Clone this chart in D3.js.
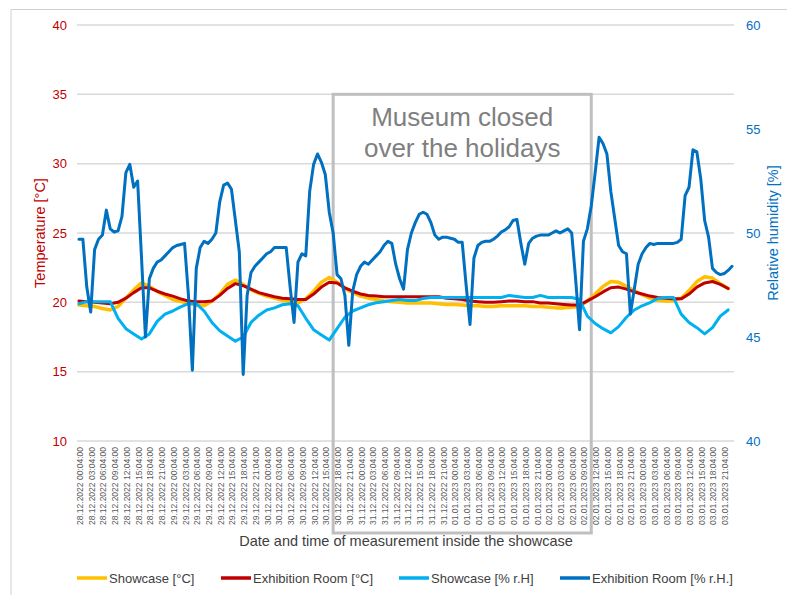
<!DOCTYPE html>
<html>
<head>
<meta charset="utf-8">
<script src="https://cdn.jsdelivr.net/npm/d3@7"></script>
<style>
  body { margin: 0; background: #fff; }
  text { font-family: "Liberation Sans", Arial, sans-serif; }
</style>
</head>
<body>
<div id="chart"></div>
<script>
// category labels (one every 3 hours)
var days = ["28.12.2022", "29.12.2022", "30.12.2022", "31.12.2022", "01.01.2023", "02.01.2023", "03.01.2023"];
var times = ["00:04:00", "03:04:00", "06:04:00", "09:04:00", "12:04:00", "15:04:00", "18:04:00", "21:04:00"];

// showcase temperature [°C], every 2 h
var tempShowcase = [19.8, 19.75, 19.7, 19.55, 19.45, 19.7, 20.3, 20.9, 21.4, 21.15,
  20.8, 20.5, 20.2, 20.05, 19.95, 19.8, 19.75, 20.1, 20.6, 21.3,
  21.6, 21.3, 20.9, 20.65, 20.45, 20.3, 20.15, 20.05, 19.95, 20.25,
  20.8, 21.45, 21.8, 21.45, 21.0, 20.7, 20.45, 20.3, 20.2, 20.1,
  20.05, 20.0, 19.95, 19.95, 19.95, 19.95, 19.9, 19.85, 19.85, 19.8,
  19.75, 19.75, 19.7, 19.7, 19.75, 19.75, 19.75, 19.75, 19.7, 19.7,
  19.65, 19.6, 19.6, 19.65, 19.7, 20.1, 20.6, 21.15, 21.5, 21.45,
  21.15, 20.85, 20.55, 20.3, 20.15, 20.1, 20.1, 20.3, 20.85, 21.5,
  21.85, 21.75, 21.35, 21.0];

// exhibition room temperature [°C], every 2 h
var tempRoom = [20.1, 20.05, 20.0, 19.95, 19.9, 20.0, 20.3, 20.7, 21.05, 21.05,
  20.8, 20.6, 20.45, 20.25, 20.1, 20.05, 20.05, 20.1, 20.5, 21.0,
  21.35, 21.2, 20.95, 20.7, 20.55, 20.4, 20.3, 20.25, 20.2, 20.2,
  20.6, 21.1, 21.45, 21.4, 21.05, 20.8, 20.6, 20.5, 20.45, 20.4,
  20.4, 20.4, 20.4, 20.4, 20.4, 20.4, 20.4, 20.3, 20.25, 20.2,
  20.1, 20.05, 20.0, 20.0, 20.05, 20.1, 20.1, 20.05, 20.05, 19.95,
  19.95, 19.9, 19.85, 19.8, 19.8, 20.1, 20.4, 20.75, 21.05, 21.1,
  20.95, 20.75, 20.6, 20.45, 20.35, 20.3, 20.25, 20.25, 20.6, 21.1,
  21.4, 21.5, 21.3, 21.0];

// showcase relative humidity [%], every 2 h
var rhShowcase = [46.6, 46.7, 46.7, 46.7, 46.7, 45.9, 45.4, 45.15, 44.9, 45.15,
  45.75, 46.1, 46.25, 46.45, 46.6, 46.6, 46.25, 45.7, 45.3, 45.05,
  44.8, 45.0, 45.7, 46.05, 46.3, 46.4, 46.55, 46.6, 46.5, 45.9,
  45.35, 45.1, 44.85, 45.4, 45.95, 46.25, 46.4, 46.55, 46.65, 46.7,
  46.75, 46.8, 46.75, 46.75, 46.85, 46.9, 46.9, 46.9, 46.9, 46.9,
  46.9, 46.9, 46.9, 46.9, 46.9, 47.0, 46.95, 46.9, 46.9, 47.0,
  46.9, 46.9, 46.9, 46.9, 46.8, 46.0, 45.65, 45.4, 45.2, 45.5,
  45.95, 46.3, 46.5, 46.65, 46.85, 46.9, 46.9, 46.1, 45.7, 45.45,
  45.15, 45.45, 46.0, 46.3];

// exhibition room relative humidity [%], hourly
var rhRoom = [49.7, 49.7, 47.4, 46.2, 49.2, 49.7, 49.9, 51.1, 50.2, 50.05,
  50.1, 50.8, 52.9, 53.3, 52.2, 52.5, 48.8, 45.0, 47.8, 48.3,
  48.6, 48.7, 48.9, 49.1, 49.3, 49.4, 49.45, 49.5, 47.0, 43.4,
  48.3, 49.3, 49.6, 49.5, 49.7, 50.0, 51.5, 52.3, 52.4, 52.1,
  50.6, 49.1, 43.2, 47.0, 48.1, 48.4, 48.6, 48.8, 49.0, 49.1,
  49.3, 49.3, 49.3, 49.3, 47.4, 45.7, 48.6, 49.0, 48.9, 52.0,
  53.3, 53.8, 53.4, 52.8, 51.0, 50.0, 48.0, 47.8, 47.0, 44.6,
  47.2, 48.0, 48.4, 48.6, 48.5, 48.7, 48.9, 49.1, 49.4, 49.6,
  49.5, 48.5, 47.8, 47.3, 49.2, 50.0, 50.5, 50.9, 51.0, 50.9,
  50.5, 49.9, 49.7, 49.8, 49.8, 49.75, 49.7, 49.55, 49.55, 47.5,
  45.6, 48.8, 49.4, 49.55, 49.6, 49.6, 49.7, 49.85, 50.05, 50.15,
  50.3, 50.6, 50.65, 49.5, 48.5, 49.5, 49.75, 49.85, 49.9, 49.9,
  49.9, 50.0, 50.1, 50.0, 50.1, 50.2, 50.0, 47.8, 45.35, 49.6,
  50.2, 51.3, 52.9, 54.6, 54.3, 53.8, 52.0, 50.7, 49.4, 49.1,
  49.0, 46.1, 47.3, 48.5, 49.0, 49.3, 49.5, 49.45, 49.5, 49.5,
  49.5, 49.5, 49.5, 49.55, 49.7, 51.8, 52.2, 54.0, 53.9, 52.6,
  50.6, 49.8, 48.3, 48.1, 48.0, 48.05, 48.2, 48.4];

var tempTicks = [10, 15, 20, 25, 30, 35, 40];
var rhTicks = [40, 45, 50, 55, 60];
var closedHours = [65, 131];   // museum closed, in hours from the first reading

(function () {
  var W = 787, H = 595;
  var plotL = 77, plotR = 734, plotT = 25, plotB = 441;

  var svg = d3.select("#chart").append("svg")
      .attr("width", W)
      .attr("height", H);

  // outer frame
  svg.append("path")
      .attr("d", "M11,595V9.5H787")
      .attr("fill", "none")
      .attr("stroke", "#d0d0d0")
      .attr("stroke-width", 1);

  var labels = [];
  days.forEach(function(d) { times.forEach(function(t) { labels.push(d + " " + t); }); });

  var x = d3.scaleLinear().domain([-0.5, labels.length * 3 - 0.5]).range([plotL, plotR]);
  var yT = d3.scaleLinear().domain([10, 40]).range([plotB, plotT]);
  var yH = d3.scaleLinear().domain([40, 60]).range([plotB, plotT]);

  ///////// grid and axes

  svg.append("g")
    .selectAll("line")
    .data(tempTicks)
    .enter().append("line")
      .attr("x1", plotL)
      .attr("x2", plotR)
      .attr("y1", function(d) { return yT(d); })
      .attr("y2", function(d) { return yT(d); })
      .attr("stroke", "#d9d9d9")
      .attr("stroke-width", 1.5);

  var gL = svg.append("g")
      .attr("transform", "translate(" + (plotL - 10) + ",0)")
      .call(d3.axisLeft(yT).tickValues(tempTicks).tickSize(0).tickPadding(0));
  gL.select(".domain").remove();
  gL.selectAll("text")
      .attr("fill", "#c00000")
      .style("font-size", "13px")
      .style("font-family", "'Liberation Sans', Arial, sans-serif");

  var gR = svg.append("g")
      .attr("transform", "translate(" + (plotR + 12) + ",0)")
      .call(d3.axisRight(yH).tickValues(rhTicks).tickSize(0).tickPadding(0));
  gR.select(".domain").remove();
  gR.selectAll("text")
      .attr("fill", "#0070c0")
      .style("font-size", "13px")
      .style("font-family", "'Liberation Sans', Arial, sans-serif");

  svg.append("g")
    .selectAll("text")
    .data(labels)
    .enter().append("text")
      .attr("transform", function(d, i) { return "translate(" + (x(i * 3) + 4) + ",447) rotate(-90)"; })
      .attr("text-anchor", "end")
      .attr("fill", "#595959")
      .style("font-size", "8.5px")
      .text(function(d) { return d; });

  ///////// closed box

  svg.append("rect")
      .attr("x", x(closedHours[0]))
      .attr("y", yT(35))
      .attr("width", x(closedHours[1]) - x(closedHours[0]))
      .attr("height", 533 - yT(35))
      .attr("fill", "none")
      .attr("stroke", "#bfbfbf")
      .attr("stroke-width", 3);

  var boxMid = (x(closedHours[0]) + x(closedHours[1])) / 2;
  svg.append("text")
      .attr("x", boxMid).attr("y", 126)
      .attr("text-anchor", "middle")
      .attr("fill", "#7f7f7f")
      .style("font-size", "26px")
      .text("Museum closed");
  svg.append("text")
      .attr("x", boxMid).attr("y", 157)
      .attr("text-anchor", "middle")
      .attr("fill", "#7f7f7f")
      .style("font-size", "26px")
      .text("over the holidays");

  ///////// lines

  var series = [
    {name: "Showcase [°C]", values: tempShowcase, step: 2, y: yT, color: "#ffc000", width: 3.5},
    {name: "Exhibition Room [°C]", values: tempRoom, step: 2, y: yT, color: "#c00000", width: 3},
    {name: "Showcase [% r.H]", values: rhShowcase, step: 2, y: yH, color: "#00b0f0", width: 3},
    {name: "Exhibition Room [% r.H.]", values: rhRoom, step: 1, y: yH, color: "#0070c0", width: 3}
  ];

  series.forEach(function(s) {
    var line = d3.line()
        .x(function(d, i) { return x(i * s.step); })
        .y(function(d) { return s.y(d); });
    svg.append("path")
        .datum(s.values)
        .attr("d", line)
        .attr("fill", "none")
        .attr("stroke", s.color)
        .attr("stroke-width", s.width)
        .attr("stroke-linejoin", "round")
        .attr("stroke-linecap", "round");
  });

  ///////// titles

  svg.append("text")
      .attr("transform", "translate(45," + ((plotT + plotB) / 2) + ") rotate(-90)")
      .attr("text-anchor", "middle")
      .attr("fill", "#c00000")
      .style("font-size", "14.5px")
      .text("Temperature [°C]");

  svg.append("text")
      .attr("transform", "translate(778," + ((plotT + plotB) / 2) + ") rotate(-90)")
      .attr("text-anchor", "middle")
      .attr("fill", "#0070c0")
      .style("font-size", "14.5px")
      .text("Relative humidity [%]");

  svg.append("text")
      .attr("x", 406).attr("y", 546)
      .attr("text-anchor", "middle")
      .attr("fill", "#404040")
      .style("font-size", "14.5px")
      .text("Date and time of measurement inside the showcase");

  ///////// legend

  var legendX = [77, 221, 399, 560];
  var legend = svg.selectAll(".legend")
      .data(series)
    .enter().append("g")
      .attr("class", "legend")
      .attr("transform", function(d, i) { return "translate(" + legendX[i] + ",578)"; });

  legend.append("line")
      .attr("x1", 0).attr("x2", 30)
      .attr("stroke", function(d) { return d.color; })
      .attr("stroke-width", 3.5);

  legend.append("text")
      .attr("x", 32)
      .attr("dy", "0.35em")
      .attr("fill", "#404040")
      .style("font-size", "13px")
      .text(function(d) { return d.name; });
})();
</script>
</body>
</html>
